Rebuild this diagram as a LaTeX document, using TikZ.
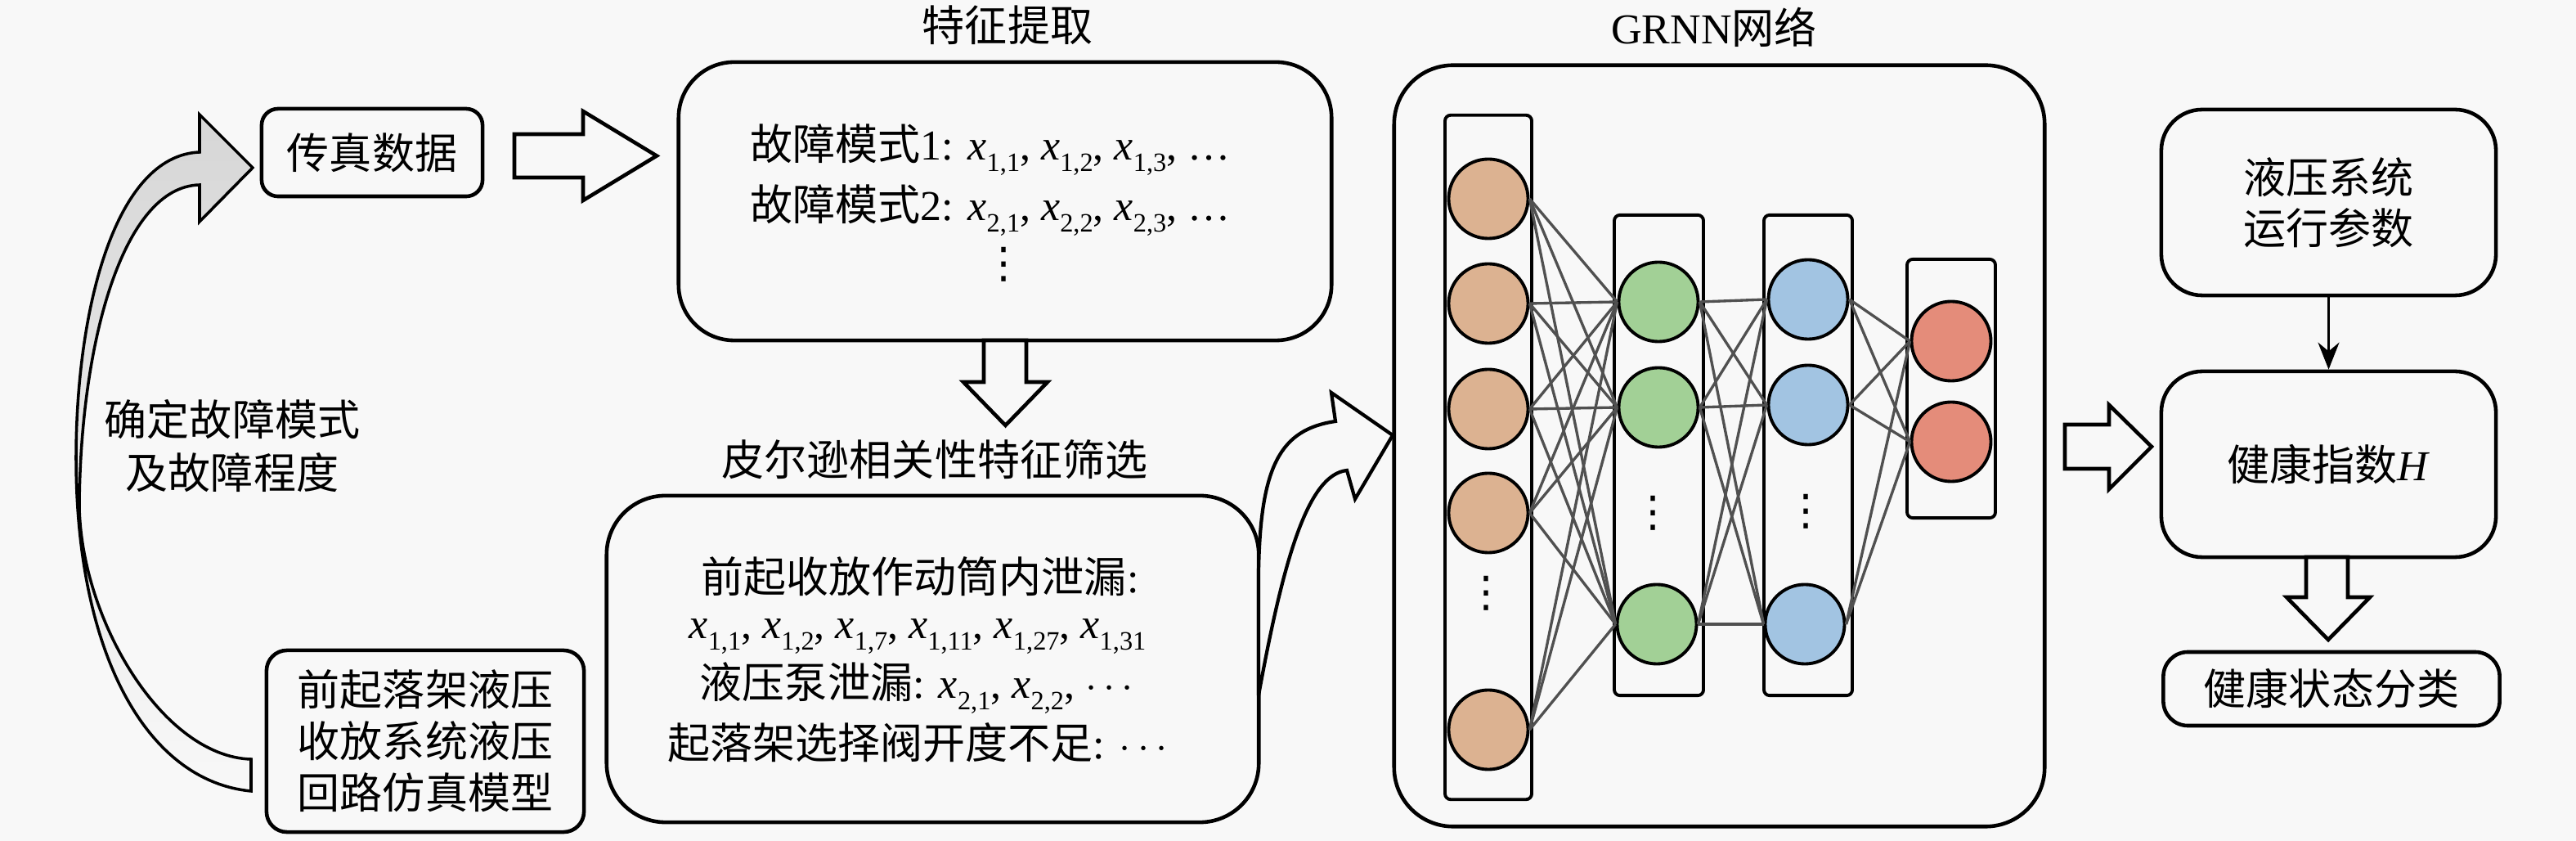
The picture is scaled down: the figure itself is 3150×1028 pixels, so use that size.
\documentclass[tikz,border=0pt]{standalone}
\usepackage{fontspec}
\setmainfont{Liberation Serif}
\newfontfamily\cjk{Noto Sans CJK SC}
\newfontfamily\djv{DejaVu Sans}
\usetikzlibrary{arrows.meta,calc}
\definecolor{bg}{RGB}{248,248,248}
\definecolor{cA}{RGB}{220,178,145}
\definecolor{cB}{RGB}{162,208,150}
\definecolor{cC}{RGB}{162,196,226}
\definecolor{cD}{RGB}{228,140,122}
\definecolor{edgecol}{RGB}{80,80,80}
\newcommand\zh[1]{{\cjk #1}}
\newcommand\vd{{\djv ⋮}}
\newcommand\xx[1]{\textit{x}\raisebox{-0.27em}{\fontsize{9.2}{9.2}\selectfont #1}}
\begin{document}
\begin{tikzpicture}[x=0.01cm,y=-0.01cm,
  font=\fontsize{14.8}{20}\selectfont,
  boxst/.style={draw, line width=1.3pt, inner sep=0pt, align=center},
  layerst/.style={draw, line width=1.1pt, rounded corners=0.07cm, inner sep=0pt},
  neuron/.style={circle, draw, line width=1.1pt, minimum size=0.97cm, inner sep=0pt},
  conn/.style={draw=edgecol, line width=0.95pt},
  harrow/.style={draw, line width=1.3pt, fill=bg, line join=miter},
  txt/.style={inner sep=0pt, align=center}
]
\fill[bg] (0,0) rectangle (3150,1028);
\useasboundingbox (0,0) rectangle (3150,1028);

% ---------- left part ----------
\node[boxst, minimum width=2.7cm, minimum height=1.07cm, rounded corners=0.2cm] (fax) at (455,186.5) {\zh{传真数据}};
\node[boxst, minimum width=3.88cm, minimum height=2.22cm, rounded corners=0.25cm,
      font=\fontsize{14.8}{17.9}\selectfont] (model) at (520,906)
      {\zh{前起落架液压}\\\zh{收放系统液压}\\\zh{回路仿真模型}};
\node[txt, font=\fontsize{14.8}{18.5}\selectfont] (lbl) at (284,545) {\zh{确定故障模式}\\\zh{及故障程度}};

% big curved arrow
\path[draw, line width=1pt, top color=gray!32, bottom color=bg, line join=miter]
  (307,967) .. controls (180,955) and (93,800) .. (93,560)
  .. controls (93,380) and (140,190) .. (244,186)
  -- (244,140) -- (309,205) -- (244,271) -- (244,226)
  .. controls (150,228) and (98,420) .. (97,620)
  .. controls (100,760) and (200,925) .. (307,928) -- cycle;

% fax -> feature arrow
\draw[harrow] (629,164) -- (713,164) -- (713,136) -- (803,190.5) -- (713,245) -- (713,217) -- (629,217) -- cycle;

% ---------- feature extraction ----------
\node[txt] (t1) at (1232,31) {\zh{特征提取}};
\node[boxst, minimum width=7.98cm, minimum height=3.40cm, rounded corners=0.68cm] (feat) at (1229,246) {};
\node[txt] (f1) at (1211,183) {\zh{故障模式}1: \xx{1,1}, \xx{1,2}, \xx{1,3}, \ldots};
\node[txt] (f2) at (1211,257) {\zh{故障模式}2: \xx{2,1}, \xx{2,2}, \xx{2,3}, \ldots};
\node[txt] (f3) at (1228,323) {\vd};

\draw[harrow] (1203,416) -- (1203,467) -- (1178,467) -- (1229.5,520) -- (1281,467) -- (1255,467) -- (1255,416) -- cycle;

% ---------- Pearson ----------
\node[txt] (t2) at (1143,562) {\zh{皮尔逊相关性特征筛选}};
\node[boxst, minimum width=7.97cm, minimum height=3.99cm, rounded corners=0.72cm] (pear) at (1140.5,805.5) {};
\node[txt] (p1) at (1125,705) {\zh{前起收放作动筒内泄漏}:};
\node[txt] (p2) at (1122,778) {\xx{1,1}, \xx{1,2}, \xx{1,7}, \xx{1,11}, \xx{1,27}, \xx{1,31}};
\node[txt] (p3) at (1121,841) {\zh{液压泵泄漏}: \xx{2,1}, \xx{2,2}, $\cdots$};
\node[txt] (p4) at (1122,908) {\zh{起落架选择阀开度不足}: $\cdots$};

% pearson -> GRNN curved arrow
\draw[line width=1.2pt, fill=bg, line join=miter]
  (1539,850) -- (1539,700) .. controls (1541,570) and (1565,525) .. (1633,515)
  -- (1628,480) -- (1703,532) -- (1657,610) -- (1647,575)
  .. controls (1600,580) and (1570,680) .. (1539,850) -- cycle;

% ---------- GRNN ----------
\node[txt] (t3) at (2096,33) {GRNN\zh{网络}};
\node[boxst, minimum width=7.95cm, minimum height=9.30cm, rounded corners=0.72cm] (grnn) at (2102.5,545) {};

\node[layerst, minimum width=1.06cm, minimum height=8.36cm] (r1) at (1820,559) {};
\node[layerst, minimum width=1.09cm, minimum height=5.87cm] (r2) at (2028.5,556.5) {};
\node[layerst, minimum width=1.08cm, minimum height=5.87cm] (r3) at (2211,556.5) {};
\node[layerst, minimum width=1.08cm, minimum height=3.16cm] (r4) at (2386,475) {};

\node[neuron, fill=cA] (a1) at (1820,243) {};
\node[neuron, fill=cA] (a2) at (1820,371) {};
\node[neuron, fill=cA] (a3) at (1820,500) {};
\node[neuron, fill=cA] (a4) at (1820,627) {};
\node[neuron, fill=cA] (a5) at (1820,892) {};
\node[txt] (da) at (1818,725) {\vd};

\node[neuron, fill=cB] (b1) at (2028,369) {};
\node[neuron, fill=cB] (b2) at (2028,498) {};
\node[neuron, fill=cB] (b3) at (2026,763) {};
\node[txt] (db) at (2022,627) {\vd};

\node[neuron, fill=cC] (c1) at (2211,366) {};
\node[neuron, fill=cC] (c2) at (2211,495) {};
\node[neuron, fill=cC] (c3) at (2207,763) {};
\node[txt] (dc) at (2209,625) {\vd};

\node[neuron, fill=cD] (e1) at (2386,417) {};
\node[neuron, fill=cD] (e2) at (2386,540) {};

\foreach \i in {1,...,5} \foreach \j in {1,2,3} \draw[conn] (a\i.east) -- (b\j.west);
\foreach \i in {1,2,3} \foreach \j in {1,2,3} \draw[conn] (b\i.east) -- (c\j.west);
\foreach \i in {1,2,3} \foreach \j in {1,2} \draw[conn] (c\i.east) -- (e\j.west);

% ---------- right part ----------
\draw[harrow] (2525,519) -- (2579,519) -- (2579,495) -- (2631,546) -- (2579,598) -- (2579,573) -- (2525,573) -- cycle;

\node[boxst, minimum width=4.09cm, minimum height=2.27cm, rounded corners=0.5cm,
      font=\fontsize{14.8}{17.6}\selectfont] (param) at (2847.5,247.5) {\zh{液压系统}\\\zh{运行参数}};
\node[boxst, minimum width=4.09cm, minimum height=2.27cm, rounded corners=0.5cm] (health) at (2847.5,567.5) {\zh{健康指数}\textit{H}};
\node[boxst, minimum width=4.11cm, minimum height=0.90cm, rounded corners=0.3cm] (cls) at (2851,842) {\zh{健康状态分类}};

\draw[line width=0.7pt, -{Stealth[length=3.3mm,width=2.6mm]}] (param.south) -- (health.north);

\draw[harrow] (2820,681) -- (2820,730) -- (2796,730) -- (2847,782) -- (2898,730) -- (2871,730) -- (2871,681) -- cycle;
\end{tikzpicture}
\end{document}
